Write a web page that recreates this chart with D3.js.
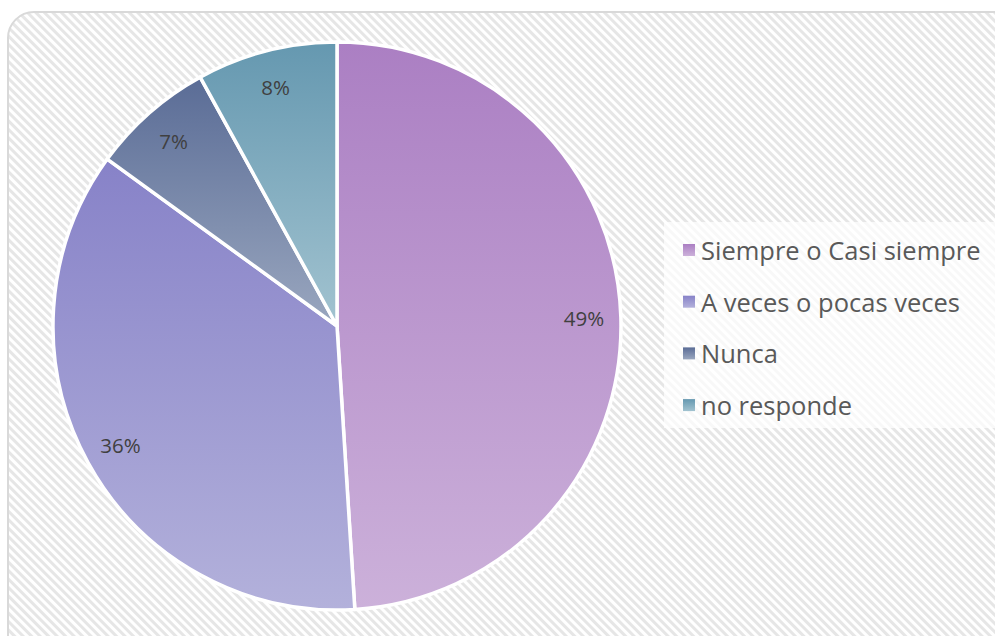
<!DOCTYPE html>
<html>
<head>
<meta charset="utf-8">
<script src="https://cdn.jsdelivr.net/npm/d3@7"></script>
<style>
  html, body { margin: 0; padding: 0; background: #ffffff; }
  svg { display: block; }
</style>
</head>
<body>
<svg id="chart" width="995" height="636"></svg>
<script>
const categories = ["Siempre o Casi siempre", "A veces o pocas veces", "Nunca", "no responde"];
const values = [49, 36, 7, 8];
const labels = ["49%", "36%", "7%", "8%"];
const topColors = ["#ab7fc3", "#8782c8", "#5a6c96", "#6598b0"];
const bottomColors = ["#ccb1da", "#b3b1db", "#9aa7bf", "#a2c3d0"];

const svg = d3.select("#chart");
const defs = svg.append("defs");

// hatch background pattern
const pat = defs.append("pattern")
  .attr("id", "hatch")
  .attr("patternUnits", "userSpaceOnUse")
  .attr("width", 6).attr("height", 6)
  .attr("patternTransform", "rotate(45)");
pat.append("rect").attr("width", 6).attr("height", 6).attr("fill", "#ffffff");
pat.append("rect").attr("width", 6).attr("height", 3).attr("fill", "#e6e6e6");

categories.forEach((c, i) => {
  const g = defs.append("linearGradient")
    .attr("id", "grad" + i)
    .attr("x1", 0).attr("y1", 0).attr("x2", 0).attr("y2", 1);
  g.append("stop").attr("offset", "0%").attr("stop-color", topColors[i]);
  g.append("stop").attr("offset", "100%").attr("stop-color", bottomColors[i]);
});

// chart area
svg.append("rect")
  .attr("x", 8).attr("y", 12)
  .attr("width", 1020).attr("height", 660)
  .attr("rx", 26).attr("ry", 26)
  .attr("fill", "url(#hatch)")
  .attr("stroke", "#d9d9d9")
  .attr("stroke-width", 2);

const cx = 337, cy = 326, r = 284;
const pie = d3.pie().sort(null).value(d => d)(values);
const arc = d3.arc().innerRadius(0).outerRadius(r);
const labelArc = d3.arc().innerRadius(r * 0.87).outerRadius(r * 0.87);

const g = svg.append("g").attr("transform", `translate(${cx},${cy})`);
g.selectAll("path.slice")
  .data(pie)
  .join("path")
  .attr("class", "slice")
  .attr("d", arc)
  .attr("fill", (d, i) => `url(#grad${i})`)
  .attr("stroke", "#ffffff")
  .attr("stroke-width", 3.5)
  .attr("stroke-linejoin", "round");

g.selectAll("text.lbl")
  .data(pie)
  .join("text")
  .attr("class", "lbl")
  .attr("transform", d => `translate(${labelArc.centroid(d)})`)
  .attr("text-anchor", "middle")
  .attr("dominant-baseline", "central")
  .attr("font-family", "'Open Sans', 'DejaVu Sans', sans-serif")
  .attr("font-size", 20.5)
  .attr("fill", "#404040")
  .text((d, i) => labels[i]);

// legend
svg.append("rect")
  .attr("x", 664).attr("y", 222)
  .attr("width", 340).attr("height", 206)
  .attr("fill", "#ffffff")
  .attr("fill-opacity", 0.72);

const leg = svg.append("g");
const rows = leg.selectAll("g.row")
  .data(categories)
  .join("g")
  .attr("class", "row")
  .attr("transform", (d, i) => `translate(683, ${250 + i * 51.7})`);
rows.append("rect")
  .attr("x", 0).attr("y", -6)
  .attr("width", 12).attr("height", 12)
  .attr("fill", (d, i) => `url(#grad${i})`);
rows.append("text")
  .attr("x", 18)
  .attr("y", 0)
  .attr("dominant-baseline", "central")
  .attr("font-family", "'Open Sans', 'DejaVu Sans', sans-serif")
  .attr("font-size", 25.5)
  .attr("fill", "#595959")
  .text(d => d);
</script>
</body>
</html>
